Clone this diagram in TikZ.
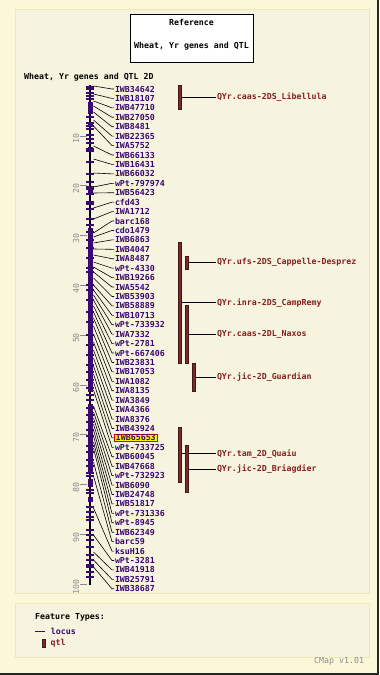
\documentclass[tikz,border=0pt]{standalone}
\usepackage{fontspec}
\setmonofont{DejaVu Sans Mono}
\usepackage{xcolor}
\usepackage{tikz}
\usetikzlibrary{positioning}
\definecolor{cPage}{HTML}{FBF8DA}
\definecolor{cPanel}{HTML}{F6F4DF}
\definecolor{cEdge}{HTML}{EEE9B6}
\definecolor{cLocus}{HTML}{3A0870}
\definecolor{cQtl}{HTML}{7A2A2A}
\definecolor{cQtlText}{HTML}{862020}
\definecolor{cAxis}{HTML}{8C8C8C}

\begin{document}
\begin{tikzpicture}[
  x=1bp, y=-1bp,
  font=\ttfamily\bfseries\fontsize{8.3}{9}\selectfont,
  panel/.style={draw=cEdge, fill=cPanel, line width=1bp},
  locus/.style={text=cLocus, anchor=west, inner sep=0.8bp},
  hilite/.style={locus, draw=red!85!black, fill=yellow, line width=0.8bp,
                 inner xsep=1.5bp, inner ysep=0.6bp},
  pick/.code={\ifnum\i=37 \pgfkeysalso{hilite}\else\pgfkeysalso{locus}\fi},
  qtlbar/.style={draw=cQtl!55!black, fill=cQtl, line width=0.6bp, inner sep=0pt,
                 outer sep=0pt, minimum width=3.4bp, anchor=north west},
  qtllab/.style={text=cQtlText, anchor=west, inner sep=0.8bp},
  link/.style={draw=black, line width=0.6bp},
  axnum/.style={text=cAxis, rotate=90, inner sep=0pt, font=\ttfamily\fontsize{8.3}{9}\selectfont},
]
\useasboundingbox (0,0) rectangle (379,675);
\fill[cPage] (0,0) rectangle (379,675);
\draw[black!85, line width=2bp] (0,674) -- (378,674) -- (378,0);
\draw[panel] (15,10) rectangle (369,593);
\draw[panel] (15,603) rectangle (369,657);

% title
\node[draw=black, fill=white, line width=0.8bp, minimum width=123bp, minimum height=48bp,
      anchor=north west, inner sep=0pt] (ttlbox) at (130,14) {};
\node (ttl1) at (191.5,22) {Reference};
\node (ttl2) at (191.5,46) {Wheat, Yr genes and QTL};
\node[anchor=west, inner sep=0pt] (mapname) at (24,77) {Wheat, Yr genes and QTL 2D};

% scale
\foreach \v in {10,20,...,100} {
  \pgfmathsetmacro\ty{86+4.98*\v}
  \draw[cAxis, line width=0.6bp] (80,\ty) -- (87,\ty);
  \node[axnum] (ax\v) at (76,\ty+3) {\v};
}

% chromosome 2D
\draw[black, line width=2bp] (90,85) -- (90,585);
\foreach \a/\b in {102/114,123/127,147/151,187/193,228/392,404/472,479/487,497/502}
  \fill[cLocus] (87.5,\a) rectangle (92.5,\b);
\foreach \t in {87,89,93,96,99,117,123,126,129,135,139,143,149,151,162,174,182,187,
                189,194,202,204,209,219,225,232,240,248,258,268,272,285,290,300,312,
                322,335,345,355,365,372,380,388,395,400,408,415,422,430,436,446,452,
                460,466,473,476,490,493,507,512,517,520,530,535,540,547,555,560,565,
                567,572,577}
  \fill[cLocus] (86,\t-0.8) rectangle (94,\t+0.8);

% loci
\foreach \lab/\fy [count=\i from 0] in {IWB34642/86, IWB18107/94, IWB47710/101,
    IWB27050/106, IWB8481/112, IWB22365/120, IWA5752/126, IWB66133/146,
    IWB16431/159, IWB66032/173, wPt-797974/187, IWB56423/193, cfd43/208,
    IWA1712/219, barc168/233, cdo1479/237, IWB6863/243, IWB4047/249,
    IWA8487/255, wPt-4330/262, IWB19266/267, IWA5542/272, IWB53903/278,
    IWB58889/285, IWB10713/290, wPt-733932/295, IWA7332/300, wPt-2781/306,
    wPt-667406/312, IWB23831/318, IWB17053/326, IWA1082/334, IWA8135/342,
    IWA3849/350, IWA4366/358, IWA8376/366, IWB43924/374, IWB65653/382,
    wPt-733725/390, IWB60045/406, IWB47668/412, wPt-732923/418, IWB6090/424,
    IWB24748/430, IWB51817/436, wPt-731336/442, wPt-8945/448, IWB62349/462,
    barc59/476, ksuH16/508, wPt-3281/535, IWB41918/552, IWB25791/560,
    IWB38687/567} {
  \node[pick] (loc\i) at (114,89+9.43*\i) {\lab};
  \coordinate (ft\i) at (93.5,\fy);
  \draw[link] (ft\i) -- ([xshift=-2bp]loc\i.west) -- (loc\i.west);
}

% qtl
\node[qtlbar, minimum height=24bp] (qLib) at (178.3,85) {};
\node[qtlbar, minimum height=121bp] (qCamp) at (178.3,242.3) {};
\node[qtlbar, minimum height=13.3bp] (qCap) at (185,256) {};
\node[qtlbar, minimum height=58.3bp] (qNax) at (185,305) {};
\node[qtlbar, minimum height=28.4bp] (qGua) at (192.3,363.3) {};
\node[qtlbar, minimum height=55bp] (qQua) at (178.3,427.3) {};
\node[qtlbar, minimum height=47.3bp] (qBri) at (185,445) {};

\node[qtllab] (tLib) at (216,97.3) {QYr.caas-2DS\_Libellula};
\node[qtllab] (tCap) at (216,262.3) {QYr.ufs-2DS\_Cappelle-Desprez};
\node[qtllab] (tCamp) at (216,302.7) {QYr.inra-2DS\_CampRemy};
\node[qtllab] (tNax) at (216,334) {QYr.caas-2DL\_Naxos};
\node[qtllab] (tGua) at (216,377) {QYr.jic-2D\_Guardian};
\node[qtllab] (tQua) at (216,453.7) {QYr.tam\_2D\_Quaiu};
\node[qtllab] (tBri) at (216,469.3) {QYr.jic-2D\_Briagdier};

\draw[link] (tLib.west -| qLib.east) -- (tLib.west);
\draw[link] (tCap.west -| qCap.east) -- (tCap.west);
\draw[link] (tCamp.west -| qCamp.east) -- (tCamp.west);
\draw[link] (tNax.west -| qNax.east) -- (tNax.west);
\draw[link] (tGua.west -| qGua.east) -- (tGua.west);
\draw[link] (tQua.west -| qQua.east) -- (tQua.west -| qBri.west);
\draw[link] (tQua.west -| qBri.east) -- (tQua.west);
\draw[link] (tBri.west -| qBri.east) -- (tBri.west);

% legend
\node[anchor=west, inner sep=0pt] (lgHead) at (35,617) {Feature Types:};
\coordinate (lgA) at (35,631);
\coordinate (lgB) at (45,631);
\draw[cLocus, line width=0.8bp] (lgA) -- (lgB);
\node[locus, right=5bp of lgB] (lgLocus) {locus};
\node[qtlbar, minimum height=8bp] (lgBar) at (42.3,639) {};
\node[qtllab, right=4bp of lgBar] (lgQtl) {qtl};
\node[anchor=west, inner sep=0pt, text=cAxis, font=\ttfamily\fontsize{8.3}{9}\selectfont] (ver) at (314,661) {CMap v1.01};
\end{tikzpicture}
\end{document}
